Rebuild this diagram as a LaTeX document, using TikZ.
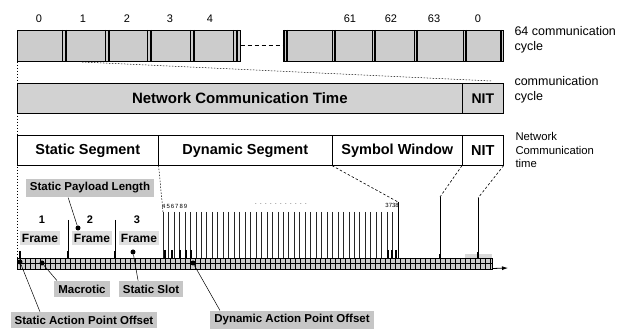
\documentclass[tikz,border=0pt]{standalone}
\usepackage{fontspec}
\setmainfont{Liberation Sans}
\usetikzlibrary{arrows.meta,calc}
\begin{document}
\begin{tikzpicture}[x=1pt,y=-1pt,
  cell/.style={draw=black, fill=gray!40, line width=0.6pt, anchor=north west, inner sep=0},
  rowbox/.style={draw=black, fill=gray!35, line width=0.6pt, anchor=north west, inner sep=0, font=\bfseries\fontsize{15}{17}\selectfont},
  seg/.style={draw=black, fill=white, line width=0.6pt, anchor=north west, inner sep=0, font=\bfseries\fontsize{14.5}{16}\selectfont},
  lab/.style={fill=gray!45, font=\bfseries\fontsize{11.5}{13}\selectfont, inner xsep=4pt, inner ysep=4pt},
  frm/.style={fill=gray!25, font=\bfseries\fontsize{12}{14}\selectfont, inner xsep=2pt, inner ysep=3pt},
  num/.style={font=\fontsize{11}{13}\selectfont},
  bnum/.style={font=\bfseries\fontsize{11}{13}\selectfont},
  side/.style={font=\fontsize{12.5}{14.5}\selectfont, align=left, anchor=west},
  dotl/.style={line width=0.5pt, dash pattern=on 1.5pt off 1.5pt},
  dashl/.style={line width=0.6pt, dash pattern=on 2.5pt off 2pt},
  pin/.style={line width=0.5pt},
  blob/.style={circle, fill=black, inner sep=0, minimum size=5pt},
  tick/.style={line width=0.4pt},
  stub/.style={line width=1.4pt}
]
\useasboundingbox (0,0) rectangle (625,331);

% ---------- top row: 64 communication cycles ----------
\node[cell, minimum width=223pt, minimum height=31pt] (cycA) at (17,30) {};
\node[cell, minimum width=220pt, minimum height=31pt] (cycB) at (283,30) {};
\foreach \x in {62,105,147,190,233} {
  \draw[line width=0.5pt] (\x,30) -- (\x,61);
  \draw[line width=1.2pt] ({\x+4},30) -- ({\x+4},61);
}
\foreach \x in {283,331,371,413,462} {
  \draw[line width=0.5pt] ({\x+1},30) -- ({\x+1},61);
  \draw[line width=1.2pt] ({\x+4},30) -- ({\x+4},61);
}
\draw[line width=1.2pt] (501,30) -- (501,61);
\node[num] (n0) at (39,19) {0};
\node[num] (n1) at (83,19) {1};
\node[num] (n2) at (127,19) {2};
\node[num] (n3) at (170,19) {3};
\node[num] (n4) at (210,19) {4};
\node[num] (n61) at (350,19) {61};
\node[num] (n62) at (391,19) {62};
\node[num] (n63) at (434,19) {63};
\node[num] (n0b) at (478,19) {0};
\draw[line width=1pt, dash pattern=on 4pt off 3pt] (cycA.east) -- (cycB.west);
\node[side] (t64) at (511,40) {64 communication\\cycle};

% ---------- second row ----------
\node[rowbox, minimum width=445pt, minimum height=30pt] (nct) at (17,83) {Network Communication Time};
\node[rowbox, minimum width=41pt, minimum height=30pt, font=\bfseries\fontsize{14}{16}\selectfont] (nit1) at (462,83) {NIT};
\node[side] (tcc) at (511,90) {communication\\cycle};
\coordinate (d1) at (82,62);
\coordinate (d2) at (492,81);
\draw[dotl] (d1) -- (d2);

% ---------- third row ----------
\node[seg, minimum width=141pt, minimum height=30pt] (sseg) at (17,135) {Static Segment};
\node[seg, minimum width=174pt, minimum height=30pt] (dseg) at (158,135) {Dynamic Segment};
\node[seg, minimum width=130pt, minimum height=30pt] (swin) at (332,135) {Symbol Window};
\node[seg, minimum width=41pt, minimum height=30pt] (nit2) at (462,135) {NIT};
\node[side, align=left, font=\fontsize{11.3}{13.5}\selectfont] (tnct) at (512,150) {Network\\Communication\\time};

% ---------- timeline bar ----------
\node[draw=black, fill=gray!40, line width=0.5pt, anchor=north west, inner sep=0,
      minimum width=475pt, minimum height=11pt] (bar) at (17,258) {};
\fill[gray!30] (465,254) rectangle (492,258);
\foreach \x in {20,25,...,490} { \draw[tick] (\x,258) -- (\x,269); }
\draw[line width=0.4pt] (17,263.5) -- (492,263.5);
\coordinate (tend) at (508,268);
\draw[line width=0.8pt, -{Latex[length=6pt,width=4pt]}] (bar.south east) ++(0,-1) -- (tend);

% left dashed line
\draw[dotl] (cycA.south west) -- (bar.north west);

% static slot boundaries
\draw[line width=0.5pt] (68,220) -- (68,258);
\draw[line width=0.5pt] (115,220) -- (115,258);
\draw[dotl] (sseg.south east) -- (163,212);
\foreach \x in {20,68,115} { \draw[stub] (\x,251) -- (\x,258); }

% frames
\node[bnum] (f1n) at (42,220) {1};
\node[bnum] (f2n) at (90,220) {2};
\node[bnum] (f3n) at (137,220) {3};
\node[frm] (fr1) at (40,238) {Frame};
\node[frm] (fr2) at (92,238) {Frame};
\node[frm] (fr3) at (139,238) {Frame};

% dynamic segment minislots
\foreach \i in {0,...,42} {
  \draw[line width=0.5pt, black!85] ({163+\i*5.465},212) -- ({163+\i*5.465},258);
}
\foreach \x in {165,172,180,186,191} { \draw[stub] (\x,250) -- (\x,258); }
\foreach \x in {388,392,396} { \draw[stub] (\x,250) -- (\x,258); }
\node[font=\fontsize{6}{7}\selectfont, anchor=west, inner sep=0] (dnum) at (162,206) {4\,5\,6\,7\,8\,9};
\node[font=\fontsize{6}{7}\selectfont, anchor=west, inner sep=0] (ddots) at (255,204) {.\ \ .\ \ .\ \ .\ \ .\ \ .\ \ .\ \ .\ \ .\ \ .\ \ .};
\node[font=\fontsize{6}{7}\selectfont, anchor=east, inner sep=0] (d3738) at (399,205) {3738};

% symbol window / NIT projections
\coordinate (sw) at (398,202);
\coordinate (na) at (440,197);
\coordinate (nb) at (478,198);
\draw[dashl] (swin.south west) -- (sw);
\draw[line width=0.9pt] (sw) -- (398,258);
\draw[dashl] (nit2.south west) -- (na);
\draw[line width=0.5pt] (na) -- (440,258);
\draw[stub] (440,254) -- (440,258);
\draw[dashl] (nit2.south east) -- (nb);
\draw[line width=0.5pt] (nb) -- (478,258);
\draw[stub] (478,252) -- (478,258);

% labels with pins
\node[lab] (spl) at (90,188) {Static Payload Length};
\node[blob] (b1) at (78,228) {};
\draw[pin] ($(spl.south west)!0.33!(spl.south east)$) -- (b1);

\node[lab] (mac) at (82,289) {Macrotic};
\node[blob] (b2) at (42,263) {};
\draw[pin] (b2) -- ($(mac.north west)!0.05!(mac.north east)$);

\node[lab] (ssl) at (151,289) {Static Slot};
\node[blob] (b3) at (133,252) {};
\draw[pin] (b3) -- ($(ssl.north west)!0.3!(ssl.north east)$);

\node[lab] (sapo) at (84,320) {Static Action Point Offset};
\node[blob] (b4) at (20,262) {};
\draw[pin] (b4) -- ($(sapo.north west)!0.2!(sapo.north east)$);

\node[lab] (dapo) at (292,320) {Dynamic Action Point Offset};
\node[blob] (b5) at (193,263) {};
\draw[pin] (b5) -- ($(dapo.north west)!0.06!(dapo.north east)$);
\end{tikzpicture}
\end{document}
